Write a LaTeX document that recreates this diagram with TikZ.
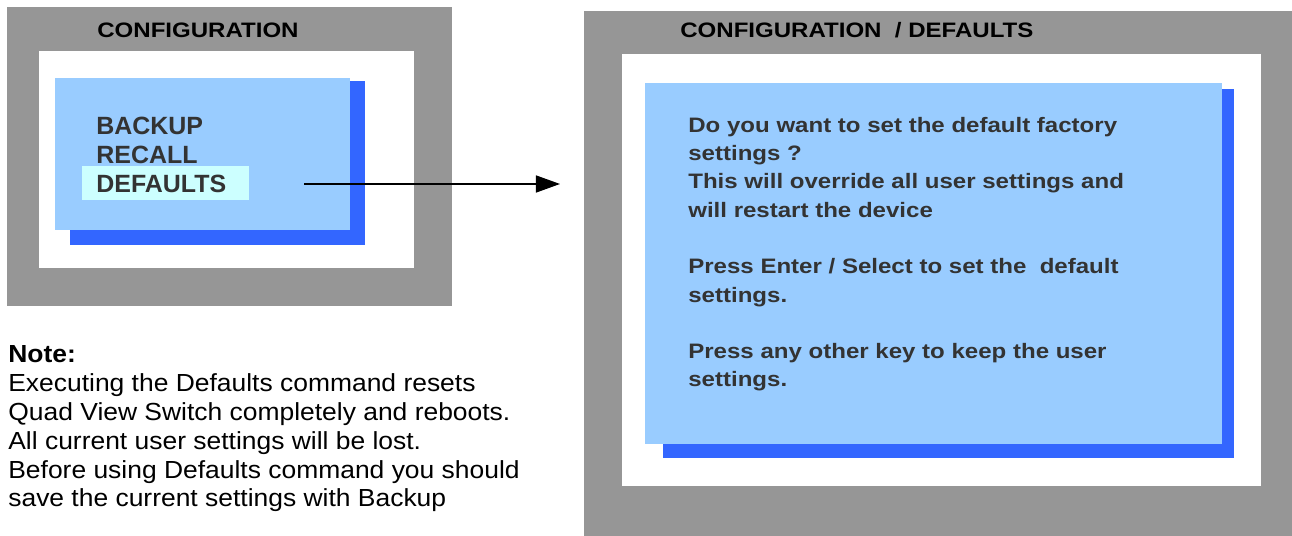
\documentclass[tikz,border=0pt]{standalone}
\usepackage{fontspec}
\setmainfont{Liberation Sans}
\newfontfamily\widesans[FakeStretch=1.15]{Liberation Sans}
\newfontfamily\notesans[FakeStretch=1.07]{Liberation Sans}
\usepackage{xcolor}
\usetikzlibrary{arrows.meta,positioning}
\definecolor{framegray}{HTML}{969696}
\definecolor{menublue}{HTML}{99CCFF}
\definecolor{shadowblue}{HTML}{3366FF}
\definecolor{selcyan}{HTML}{CCFFFF}
\definecolor{txtgray}{HTML}{333333}
\tikzset{
  title/.style={anchor=base west,inner sep=0pt,font=\widesans\bfseries\fontsize{11.9}{14}\selectfont},
  item/.style={anchor=base west,inner sep=0pt,text=txtgray,font=\bfseries\fontsize{14.2}{16}\selectfont},
  msgtext/.style={anchor=base west,inner sep=0pt,align=left,text=txtgray,font=\widesans\bfseries\fontsize{11.9}{16.1}\selectfont},
  notetext/.style={anchor=base west,inner sep=0pt,align=left,font=\notesans\fontsize{14.06}{16.4}\selectfont},
  arr/.style={-{Triangle[length=13.7pt,width=9.7pt]},line width=0.8pt},
}
\begin{document}
\begin{tikzpicture}[x=0.02cm,y=-0.02cm]
\useasboundingbox (0,0) rectangle (1292,536);
% left screen: configuration menu
\fill[framegray] (7,7) rectangle (452,306);
\fill[white] (39,51) rectangle (414,268);
\fill[shadowblue] (70,81) rectangle (365,245);
\fill[menublue] (55,78) rectangle (350,230);
\fill[selcyan] (82,166) rectangle (249,200);
\node[title] (cfg) at (97,38) {CONFIGURATION};
\node[item] (backup) at (96,135) {BACKUP};
\node[item] (recall) at (96,164) {RECALL};
\node[item] (defaults) at (96,193) {DEFAULTS};
% right screen: defaults confirmation
\fill[framegray] (584,11) rectangle (1292,536);
\fill[white] (622,54) rectangle (1261,486);
\fill[shadowblue] (663,89) rectangle (1234,458);
\fill[menublue] (645,83) rectangle (1222,444);
\node[title] (cfgdef) at (680,38) {CONFIGURATION \ / DEFAULTS};
% base = last line of the block
\node[msgtext] (msg) at (688,387) {Do you want to set the default factory\\settings ?\\This will override all user settings and\\will restart the device\\~\\Press Enter / Select to set the \ default\\settings.\\~\\Press any other key to keep the user\\settings.};
% note
\node[notetext] (note) at (8,507) {\textbf{Note:}\\Executing the Defaults command resets\\Quad View Switch completely and reboots.\\All current user settings will be lost.\\Before using Defaults command you should\\save the current settings with Backup};
% arrow
\coordinate (arrs) at (304,184);
\coordinate (arre) at (560,184);
\draw[arr] (arrs) -- (arre);
\end{tikzpicture}
\end{document}
